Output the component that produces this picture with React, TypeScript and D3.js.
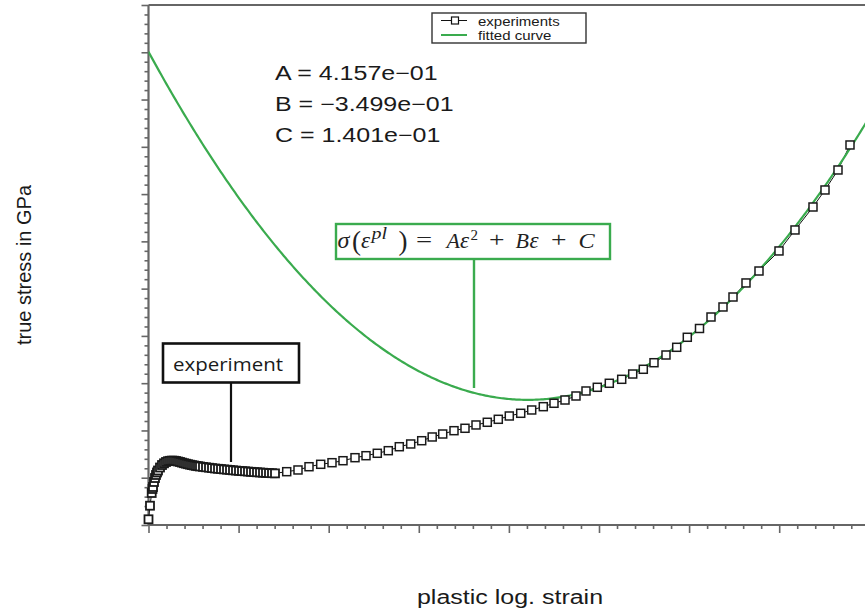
import { useEffect, useRef } from "react";
import * as d3 from "d3";

const W = 865;
const H = 613;

// fit coefficients shown on the chart
const coefA = 0.4157;
const coefB = -0.3499;
const coefC = 0.1401;

const coefLabels = ["A = 4.157e\u221201", "B = \u22123.499e\u221201", "C = 1.401e\u221201"];
const legendLabels = ["experiments", "fitted curve"];

const expStrain = [
  0, 0.00166, 0.00355, 0.00444, 0.00499, 0.0061, 0.00721, 0.00832, 0.00943, 0.01054, 0.01276,
  0.01498, 0.0172, 0.01942, 0.02164, 0.02386, 0.02608, 0.0283, 0.03052, 0.03274, 0.03496, 0.03718,
  0.0394, 0.04162, 0.04384, 0.04606, 0.04828, 0.0505, 0.05272, 0.05494, 0.05716, 0.06049, 0.06382,
  0.06715, 0.07048, 0.07381, 0.07714, 0.08047, 0.0838, 0.08713, 0.09046, 0.09378, 0.09711, 0.10044,
  0.10377, 0.1071, 0.11043, 0.11376, 0.11709, 0.12042, 0.12375, 0.12708, 0.13041, 0.13374, 0.13707,
  0.1404,
  0.15339, 0.16593, 0.17814, 0.19112, 0.20366, 0.21587, 0.22919, 0.2414, 0.25394, 0.26615, 0.27836,
  0.29101, 0.30322, 0.31487, 0.32653, 0.33907, 0.35127, 0.36349, 0.37602, 0.38824, 0.40044, 0.4131,
  0.4253, 0.43818, 0.45005, 0.46226, 0.47447, 0.48557, 0.49811, 0.51143, 0.52519, 0.5374, 0.54917,
  0.56104, 0.57436, 0.58624, 0.598, 0.61154, 0.62431, 0.63762, 0.64872, 0.66315, 0.67758, 0.69978,
  0.71754, 0.73751, 0.75083, 0.76526, 0.77858,
];
const expStress = [
  0.04121, 0.04408, 0.04677, 0.04762, 0.04804, 0.0491, 0.04994, 0.05058, 0.05111, 0.05153, 0.05216,
  0.05269, 0.05305, 0.05333, 0.0535, 0.05358, 0.05362, 0.0536, 0.05354, 0.05343, 0.05333, 0.0532,
  0.05307, 0.05297, 0.05286, 0.05276, 0.05267, 0.05259, 0.0525, 0.05244, 0.05238, 0.05229, 0.05221,
  0.05212, 0.05204, 0.05195, 0.05189, 0.05183, 0.05176, 0.0517, 0.05164, 0.05157, 0.05151, 0.05145,
  0.0514, 0.05136, 0.0513, 0.05125, 0.05119, 0.05115, 0.05111, 0.05106, 0.05102, 0.05098, 0.05096,
  0.05092,
  0.05128, 0.05164, 0.05233, 0.05284, 0.05318, 0.0536, 0.05424, 0.05466, 0.05517, 0.05572, 0.05656,
  0.05714, 0.05783, 0.05862, 0.05925, 0.05995, 0.06046, 0.06116, 0.06173, 0.06236, 0.06306, 0.06363,
  0.06433, 0.06503, 0.06575, 0.06644, 0.06729, 0.06835, 0.06913, 0.06998, 0.07082, 0.07194, 0.07294,
  0.07433, 0.07596, 0.07759, 0.07971, 0.08157, 0.084, 0.08612, 0.08823, 0.0912, 0.09373, 0.09797,
  0.10241, 0.10727, 0.11087, 0.1151, 0.12039,
];

const GREEN = "#3aab4e";
const AXIS = "#666";
const SANS = "Liberation Sans, Arial, sans-serif";
const SERIF = "Liberation Serif, Times New Roman, serif";

export default function App() {
  const ref = useRef<SVGSVGElement>(null);

  useEffect(() => {
    document.body.style.margin = "0";
    const svg = d3.select(ref.current);
    if (!svg.node()) return;
    svg.selectAll("*").remove();

    const x = d3.scaleLinear().domain([0, 0.8]).range([148.5, 869.3]);
    const y = d3.scaleLinear().domain([0.04, 0.15]).range([525, 5]);
    const [x0, x1] = x.range();
    const [yb, yt] = y.range();

    svg.append("rect").attr("width", W).attr("height", H).attr("fill", "#fff");

    svg
      .append("defs")
      .append("clipPath")
      .attr("id", "plot")
      .append("rect")
      .attr("x", x0)
      .attr("y", yt)
      .attr("width", x1 - x0)
      .attr("height", yb - yt);

    // axes
    const xMajor = d3.range(0, 0.8001, 0.1);
    const xMinor = d3.range(0, 0.8001, 0.02).filter((v) => Math.abs(v * 10 - Math.round(v * 10)) > 1e-6);
    const yMajor = d3.range(0.04, 0.15001, 0.01);
    const yMinor = d3.range(0.04, 0.15001, 0.002).filter((v) => Math.abs(v * 100 - Math.round(v * 100)) > 1e-6);

    const styleAxis = (g: any) => {
      g.selectAll("text").remove();
      g.selectAll("line").attr("stroke", AXIS).attr("stroke-width", 1.6);
      g.select(".domain").remove();
    };

    svg
      .append("g")
      .attr("transform", `translate(0,${yb})`)
      .call(d3.axisBottom(x).tickValues(xMajor).tickSize(8).tickSizeOuter(0))
      .call(styleAxis);
    svg
      .append("g")
      .attr("transform", `translate(0,${yb})`)
      .call(d3.axisBottom(x).tickValues(xMinor).tickSize(4).tickSizeOuter(0))
      .call(styleAxis);
    svg
      .append("g")
      .attr("transform", `translate(${x0},0)`)
      .call(d3.axisLeft(y).tickValues(yMajor).tickSize(7).tickSizeOuter(0))
      .call(styleAxis);
    svg
      .append("g")
      .attr("transform", `translate(${x0},0)`)
      .call(d3.axisLeft(y).tickValues(yMinor).tickSize(4).tickSizeOuter(0))
      .call(styleAxis);

    // frame lines
    svg.append("line").attr("x1", x0).attr("x2", x1).attr("y1", yb).attr("y2", yb).attr("stroke", AXIS).attr("stroke-width", 2.2);
    svg.append("line").attr("x1", x0).attr("x2", x1).attr("y1", yt).attr("y2", yt).attr("stroke", AXIS).attr("stroke-width", 2.2);
    svg.append("line").attr("x1", x0).attr("x2", x0).attr("y1", yt).attr("y2", yb).attr("stroke", AXIS).attr("stroke-width", 2.2);

    // experiments
    const pts = expStrain.map((s, i) => [s, expStress[i]] as [number, number]);
    const plot = svg.append("g").attr("clip-path", "url(#plot)");
    plot
      .append("path")
      .attr("d", d3.line<[number, number]>().x((d) => x(d[0])).y((d) => y(d[1]))(pts))
      .attr("fill", "none")
      .attr("stroke", "#111")
      .attr("stroke-width", 1);
    const ms = 8;
    svg
      .append("g")
      .selectAll("rect")
      .data(pts)
      .join("rect")
      .attr("x", (d) => x(d[0]) - ms / 2)
      .attr("y", (d) => y(d[1]) - ms / 2)
      .attr("width", ms)
      .attr("height", ms)
      .attr("fill", "#fff")
      .attr("stroke", "#1a1a1a")
      .attr("stroke-width", (d) => (d[0] < 0.145 ? 1.8 : 1.5));

    // fitted curve
    const fitX = d3.range(0, 0.8201, 0.002);
    plot
      .append("path")
      .attr(
        "d",
        d3
          .line<number>()
          .x((e) => x(e))
          .y((e) => y(coefA * e * e + coefB * e + coefC))(fitX),
      )
      .attr("fill", "none")
      .attr("stroke", GREEN)
      .attr("stroke-width", 2.2);

    // stretched text helper
    const txt = (g: any, tx: number, ty: number, s: string, size: number, family = SANS, anchor = "start", sx = 1.25) =>
      g
        .append("text")
        .attr("transform", `translate(${tx},${ty}) scale(${sx},1)`)
        .attr("font-family", family)
        .attr("font-size", size)
        .attr("text-anchor", anchor)
        .attr("fill", "#1a1a1a")
        .text(s);

    // coefficient labels
    coefLabels.forEach((s, i) => txt(svg, 275, 79.5 + i * 31, s, 20));

    // legend
    const lg = svg.append("g");
    lg.append("rect").attr("x", 432).attr("y", 13).attr("width", 154).attr("height", 30).attr("fill", "#fff").attr("stroke", "#333").attr("stroke-width", 1.4);
    lg.append("line").attr("x1", 441).attr("x2", 467).attr("y1", 20.5).attr("y2", 20.5).attr("stroke", "#111").attr("stroke-width", 1);
    lg.append("rect").attr("x", 451.5).attr("y", 17).attr("width", 7).attr("height", 7).attr("fill", "#fff").attr("stroke", "#111").attr("stroke-width", 1.2);
    lg.append("line").attr("x1", 441).attr("x2", 467).attr("y1", 35).attr("y2", 35).attr("stroke", GREEN).attr("stroke-width", 2);
    legendLabels.forEach((s, i) => txt(lg, 478, 25.5 + i * 14, s, 12));

    // formula box
    const fb = svg.append("g");
    fb.append("line").attr("x1", 474).attr("x2", 474).attr("y1", 259).attr("y2", 388).attr("stroke", GREEN).attr("stroke-width", 2.4);
    fb.append("rect").attr("x", 336).attr("y", 224).attr("width", 274).attr("height", 35).attr("fill", "#fff").attr("stroke", GREEN).attr("stroke-width", 2.4);
    // x, baseline, glyphs, size, italic, horizontal stretch
    const pieces: [number, number, string, number, boolean, number][] = [
      [337.5, 248, "\u03c3", 23, true, 1.05],
      [352, 250, "(", 27, false, 1],
      [361, 248, "\u03b5", 23, true, 1],
      [371.5, 239, "pl", 16, true, 1.25],
      [398.5, 250, ")", 27, false, 1],
      [416, 247, "=", 22, false, 1.3],
      [446.5, 248, "A", 22, true, 1],
      [460, 248, "\u03b5", 23, true, 1],
      [470.5, 240, "2", 15, false, 1],
      [489, 247, "+", 22, false, 1.25],
      [515.5, 248, "B", 22, true, 1],
      [529.5, 248, "\u03b5", 23, true, 1],
      [551, 247, "+", 22, false, 1.25],
      [578.5, 248, "C", 22, true, 1.1],
    ];
    pieces.forEach(([px, py, s, size, it, sx]) => {
      txt(fb, px, py, s, size, SERIF, "start", sx).attr("font-style", it ? "italic" : "normal").attr("fill", "#222");
    });

    // experiment annotation
    const eb = svg.append("g");
    eb.append("line").attr("x1", 231).attr("x2", 231).attr("y1", 383).attr("y2", 462).attr("stroke", "#111").attr("stroke-width", 2.2);
    eb.append("rect").attr("x", 163).attr("y", 343.5).attr("width", 136).attr("height", 39).attr("fill", "#fff").attr("stroke", "#111").attr("stroke-width", 2.6);
    eb.append("text")
      .attr("x", 173)
      .attr("y", 370.5)
      .attr("font-family", "Open Sans, Lato, sans-serif")
      .attr("font-size", 19)
      .attr("textLength", 110)
      .attr("lengthAdjust", "spacingAndGlyphs")
      .attr("fill", "#1a1a1a")
      .text("experiment");

    // axis titles
    txt(svg, 510, 604, "plastic log. strain", 20, SANS, "middle");
    svg
      .append("text")
      .attr("transform", "translate(31,265) rotate(-90)")
      .attr("font-family", SANS)
      .attr("font-size", 20)
      .attr("text-anchor", "middle")
      .attr("fill", "#1a1a1a")
      .text("true stress in GPa");
  }, []);

  return <svg ref={ref} width={W} height={H} style={{ display: "block" }} />;
}
